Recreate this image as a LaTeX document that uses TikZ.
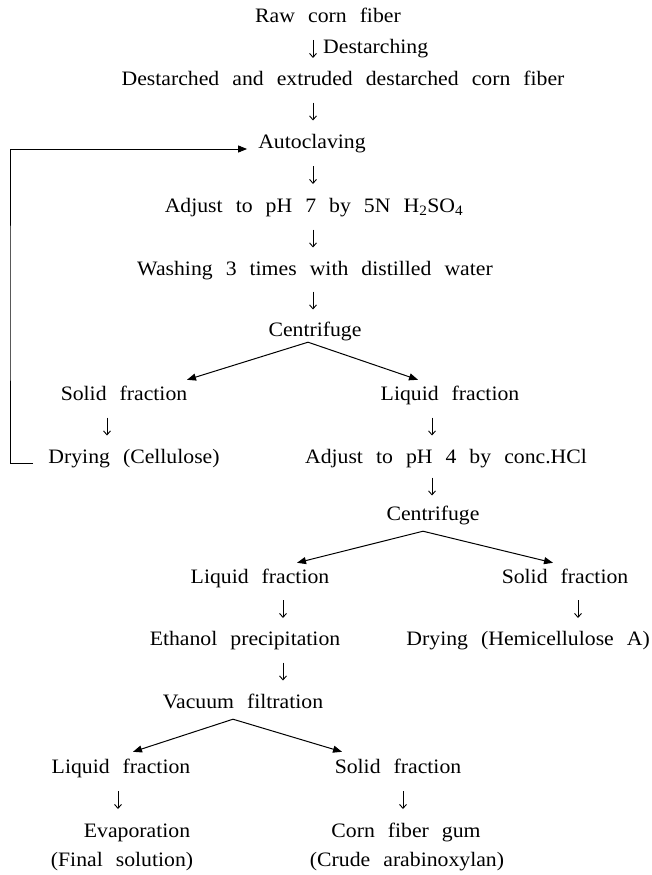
\documentclass[tikz,border=0pt]{standalone}
\usepackage{fontspec}
\setmainfont{Liberation Serif}[FakeStretch=1.06, WordSpace={2.4,0,0}, Ligatures=CommonOff]
\usetikzlibrary{arrows.meta,calc}
\newcommand\dnar[3]{\draw[dn] ($(#1.south -| #3)!0.5!(#2.north -| #3)$) ++(0,-9) -- ++(0,18);}
\begin{document}
\begin{tikzpicture}[x=1pt,y=-1pt, font=\fontsize{20.5}{22}\selectfont,
 lab/.style={inner sep=0pt, text height=14pt, text depth=4pt},
 dn/.style={line width=0.9pt, -{Straight Barb[length=4pt,width=7pt]}},
 br/.style={line width=1pt, -{Triangle[length=9pt,width=7pt]}},
 fb/.style={line width=0.9pt, -{Triangle[length=9pt,width=7pt]}}]
\useasboundingbox (0,0) rectangle (652,875);
% x positions of the down arrows
\coordinate (cm) at (313,0);
\coordinate (cs1) at (107,0);
\coordinate (cl1) at (432,0);
\coordinate (cl2) at (283,0);
\coordinate (cs2) at (578,0);
\coordinate (cl3) at (118,0);
\coordinate (cs3) at (403,0);
\coordinate (loopc) at (10,300);
% nodes
\node[lab] (raw) at (328,18) {Raw corn fiber};
\node[lab] (destd) at (343,80) {Destarched and extruded destarched corn fiber};
\node[lab] (auto) at (312,143) {Autoclaving};
\node[lab] (adj7) at (314,207) {Adjust to pH 7 by 5N H\textsubscript{2}SO\textsubscript{4}};
\node[lab] (wash) at (315,270) {Washing 3 times with distilled water};
\node[lab] (cen1) at (315,331) {Centrifuge};
\node[lab] (solid1) at (124,395) {Solid fraction};
\node[lab] (liq1) at (450,395) {Liquid fraction};
\node[lab] (dry1) at (134,458) {Drying (Cellulose)};
\node[lab] (adj4) at (446,458) {Adjust to pH 4 by conc.HCl};
\node[lab] (cen2) at (433,515) {Centrifuge};
\node[lab] (liq2) at (260,578) {Liquid fraction};
\node[lab] (solid2) at (565,578) {Solid fraction};
\node[lab] (eth) at (245,640) {Ethanol precipitation};
\node[lab, anchor=east] (dry2) at (650,640) {Drying (Hemicellulose A)};
\node[lab] (vac) at (243,703) {Vacuum filtration};
\node[lab] (liq3) at (121,768) {Liquid fraction};
\node[lab] (solid3) at (398,768) {Solid fraction};
\node[lab] (evap) at (137,832) {Evaporation};
\node[lab] (final) at (122,861) {(Final solution)};
\node[lab] (corn) at (406,832) {Corn fiber gum};
\node[lab] (crude) at (407,861) {(Crude arabinoxylan)};
% first arrow with label
\path ($(raw.south -| cm)!0.5!(destd.north -| cm)$) coordinate (dm);
\draw[dn] (dm) ++(0,-9) -- ++(0,18);
\node[lab, anchor=west] (dlab) at ([xshift=10pt]dm) {Destarching};
% plain down arrows
\dnar{destd}{auto}{cm}
\dnar{auto}{adj7}{cm}
\dnar{adj7}{wash}{cm}
\dnar{wash}{cen1}{cm}
\dnar{solid1}{dry1}{cs1}
\dnar{liq1}{adj4}{cl1}
\dnar{adj4}{cen2}{cl1}
\dnar{liq2}{eth}{cl2}
\dnar{solid2}{dry2}{cs2}
\dnar{eth}{vac}{cl2}
\dnar{liq3}{evap}{cl3}
\dnar{solid3}{corn}{cs3}
% branches
\draw[br] ([xshift=-7pt,yshift=-2pt]cen1.south) -- ([xshift=63pt,yshift=6pt]solid1.north);
\draw[br] ([xshift=-7pt,yshift=-2pt]cen1.south) -- ([xshift=-32pt,yshift=6pt]liq1.north);
\draw[br] ([xshift=-10pt,yshift=-7pt]cen2.south) -- ([xshift=37pt,yshift=6pt]liq2.north);
\draw[br] ([xshift=-10pt,yshift=-7pt]cen2.south) -- ([xshift=-12pt,yshift=6pt]solid2.north);
\draw[br] ([xshift=-10pt,yshift=-7pt]vac.south) -- ([xshift=12pt,yshift=7pt]liq3.north);
\draw[br] ([xshift=-10pt,yshift=-7pt]vac.south) -- ([xshift=-56pt,yshift=7pt]solid3.north);
% feedback loop
\draw[fb] ([xshift=-15pt,yshift=-5pt]dry1.west) -| (loopc) |- ([xshift=-11pt,yshift=-6pt]auto.west);
\end{tikzpicture}
\end{document}
